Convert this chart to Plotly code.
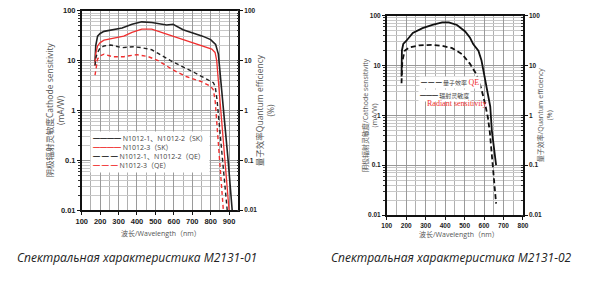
import plotly.graph_objects as go

W, H = 600, 282

# ---------------- data ----------------
# Left chart M2131-01
sk12_wl = [172, 176, 186, 200, 221, 266, 319, 373, 426, 480, 530, 561, 596, 650, 703, 756, 800, 827, 842, 854, 872, 895, 917]
sk12_v = [9.5, 20, 31, 35, 38.6, 41.5, 45, 53.5, 60, 58, 54, 52, 53.5, 41.5, 35.7, 31, 26.4, 21.2, 13.5, 4.8, 1.0, 0.1, 0.01]

sk3_wl = [172, 176, 186, 200, 221, 284, 328, 373, 426, 480, 542, 596, 650, 703, 756, 806, 824, 833, 840, 855, 878, 900]
sk3_v = [8, 14, 19.7, 23, 25.8, 28.6, 31, 37, 42.7, 42.7, 35.7, 31, 26.4, 22.9, 19.7, 17, 14.6, 10, 4.8, 1.0, 0.1, 0.01]

qe12_wl = [172, 178, 186, 200, 221, 257, 319, 382, 426, 480, 515, 596, 703, 793, 815, 825, 835, 862, 890]
qe12_v = [8, 12, 14.6, 18, 19.7, 20.6, 18.2, 19, 18.2, 16.5, 14, 9.4, 6, 4.1, 3.6, 3.0, 1.6, 0.13, 0.01]

qe3_wl = [172, 178, 186, 200, 221, 266, 328, 400, 462, 515, 596, 667, 750, 800, 815, 825, 845, 869]
qe3_v = [5.1, 8, 10.8, 12.5, 13.5, 12, 12, 13.2, 12, 10, 6.5, 4.8, 3.8, 3.05, 2.6, 1.5, 0.17, 0.01]

# Right chart M2131-02
rad_wl = [176, 178, 185, 200, 234, 284, 335, 385, 419, 461, 503, 518, 528, 545, 571, 587, 604, 620, 632, 640, 648, 662]
rad_v = [6, 20, 27, 31, 45, 56, 65, 73, 73, 65, 48, 40, 36, 26.5, 19.7, 12.6, 6, 3, 1.5, 0.5, 0.25, 0.1]

qe_wl = [176, 180, 192, 217, 268, 335, 385, 436, 486, 528, 562, 587, 604, 620, 630, 640, 652, 662]
qe_v = [4.4, 12, 19.7, 23, 25.4, 25.8, 24.7, 22.3, 17, 10.8, 6.5, 3.3, 1.8, 0.9, 0.45, 0.18, 0.055, 0.017]

y_ticks = [0.01, 0.1, 1, 10, 100]
y_tick_text = ["0.01", "0.1", "1", "10", "100"]

# ---------------- helpers ----------------
def fx(p):
    return p / W

def fy(p):
    return 1 - p / H

TICKFONT = dict(family="Liberation Sans", size=7.5, color="#222", weight="bold")
TICKFONT2 = dict(family="Liberation Sans", size=6.5, color="#222", weight="bold")

fig = go.Figure()

fig.add_trace(go.Scatter(x=sk12_wl, y=sk12_v, mode="lines", line=dict(color="#222", width=1.6),
                         xaxis="x", yaxis="y", showlegend=False))
fig.add_trace(go.Scatter(x=sk3_wl, y=sk3_v, mode="lines", line=dict(color="#f03030", width=1.3),
                         xaxis="x", yaxis="y", showlegend=False))
fig.add_trace(go.Scatter(x=qe12_wl, y=qe12_v, mode="lines", line=dict(color="#222", width=1.4, dash="4px,3px"),
                         xaxis="x", yaxis="y3", showlegend=False))
fig.add_trace(go.Scatter(x=qe3_wl, y=qe3_v, mode="lines", line=dict(color="#f03030", width=1.4, dash="4px,3px"),
                         xaxis="x", yaxis="y3", showlegend=False))

fig.add_trace(go.Scatter(x=qe_wl, y=qe_v, mode="lines", line=dict(color="#111", width=1.8, dash="5px,3px"),
                         xaxis="x2", yaxis="y4", showlegend=False))
fig.add_trace(go.Scatter(x=rad_wl, y=rad_v, mode="lines", line=dict(color="#111", width=1.8),
                         xaxis="x2", yaxis="y2", showlegend=False))

def xax(domain, rng, anchor, font):
    return dict(domain=domain, range=rng, anchor=anchor, tickmode="linear", tick0=0, dtick=100,
                showgrid=True, gridcolor="#9a9a9a", gridwidth=0.8,
                minor=dict(dtick=50, showgrid=True, gridcolor="#b0b0b0", gridwidth=0.6),
                showline=True, linecolor="#111", linewidth=1.5, mirror=True,
                ticks="outside", ticklen=3, tickcolor="#111", tickfont=font, zeroline=False)

def yax(domain, anchor, font, side="left", overlay=None):
    d = dict(domain=domain, type="log", range=[-2, 2], anchor=anchor, side=side,
             tickmode="array", tickvals=y_ticks, ticktext=y_tick_text,
             showline=True, linecolor="#111", linewidth=1.5,
             ticks="outside", ticklen=3, tickcolor="#111", tickfont=font, zeroline=False)
    if overlay is None:
        d.update(showgrid=True, gridcolor="#999", gridwidth=0.8,
                 minor=dict(dtick="D1", showgrid=True, gridcolor="#c8c8c8", gridwidth=0.6,
                            ticks="outside", ticklen=2, tickcolor="#333"))
    else:
        d.update(overlaying=overlay, showgrid=False,
                 minor=dict(dtick="D1", showgrid=False, ticks="inside", ticklen=2, tickcolor="#333"))
    return d

L_dom_x = [fx(77.3), fx(237)]
L_dom_y = [fy(213), fy(7)]
R_dom_x = [fx(388.5), fx(527.5)]
R_dom_y = [fy(218), fy(12)]

fig.update_layout(
    width=W, height=H, margin=dict(l=0, r=0, t=0, b=0),
    paper_bgcolor="white", plot_bgcolor="white",
    showlegend=False,
    xaxis=xax(L_dom_x, [100, 950], "y", TICKFONT),
    yaxis=yax(L_dom_y, "x", TICKFONT),
    yaxis3=yax(L_dom_y, "x", TICKFONT2, side="right", overlay="y"),
    xaxis2=xax(R_dom_x, [100, 800], "y2", TICKFONT2),
    yaxis2=yax(R_dom_y, "x2", TICKFONT2),
    yaxis4=yax(R_dom_y, "x2", TICKFONT2, side="right", overlay="y2"),
)

def A(text, x, y, font, **kw):
    d = dict(text=text, x=fx(x), y=fy(y), font=font, showarrow=False,
             xref="paper", yref="paper", xanchor="center", yanchor="middle")
    d.update(kw)
    return d

TITLE_FONT = dict(family="Open Sans, Noto Sans CJK SC", size=8.5, color="#555")
TITLE_FONT_S = dict(family="Open Sans, Noto Sans CJK SC", size=7, color="#555")
ann = []
# axis titles left chart
ann.append(A("阴极辐射灵敏度Cathode sensitivity<br>(mA/W)", 50, 110, TITLE_FONT, textangle=-90))
ann.append(A("量子效率Quantum efficiency<br>(%)", 265, 110, TITLE_FONT, textangle=-90))
ann.append(A("波长/Wavelength（nm）", 158, 237, TITLE_FONT_S))
# axis titles right chart
ann.append(A("阴极辐射灵敏度/Cathode sensitivity<br>(mA/W)", 372, 115, TITLE_FONT_S, textangle=-90))
ann.append(A("量子效率/Quantum efficiency<br>(%)", 550, 115, TITLE_FONT_S, textangle=-90))
ann.append(A("波长/Wavelength（nm）", 462, 238, TITLE_FONT_S))
# captions
CAP = dict(family="Open Sans", size=12, color="#222", style="italic")
ann.append(A("Спектральная характеристика M2131-01", 134, 262, CAP))
ann.append(A("Спектральная характеристика M2131-02", 455, 262, CAP))

# left legend (as text block)
sol_k = "<span style='color:#222'>━━━━</span>"
sol_r = "<span style='color:#f03030'>━━━━</span>"
das_k = "<span style='color:#222'>━ ━ ━</span>"
das_r = "<span style='color:#f03030'>━ ━ ━</span>"
leg_lines = [
    sol_k + " N1012-1、N1012-2（SK）",
    sol_r + " N1012-3（SK）",
    das_k + " N1012-1、N1012-2（QE）",
    das_r + " N1012-3（QE）",
]
ann.append(A("<br>".join(leg_lines), 86, 131,
             dict(family="Open Sans, Noto Sans CJK SC", size=7, color="#444"),
             xanchor="left", yanchor="top", align="left", bgcolor="white", borderpad=2))

# right legend (as text)
RED_SERIF = "color:#f03030;font-family:Liberation Serif"
ann.append(A("<span style='color:#111'>━ ━ ━</span> 量子效率 <span style='" + RED_SERIF + ";font-size:8px'>QE</span>",
             421, 81, dict(family="Noto Sans CJK SC", size=6, color="#444"),
             xanchor="left", bgcolor="white", borderpad=1))
ann.append(A("<span style='color:#111'>━━━</span> 辐射灵敏度", 420, 95,
             dict(family="Noto Sans CJK SC", size=6, color="#444"),
             xanchor="left", bgcolor="white", borderpad=1))
ann.append(A("Radiant sensitivity", 428, 103,
             dict(family="Liberation Serif", size=8, color="#f03030"), xanchor="left"))

fig.update_layout(annotations=ann)
fig.write_html("out.html")
